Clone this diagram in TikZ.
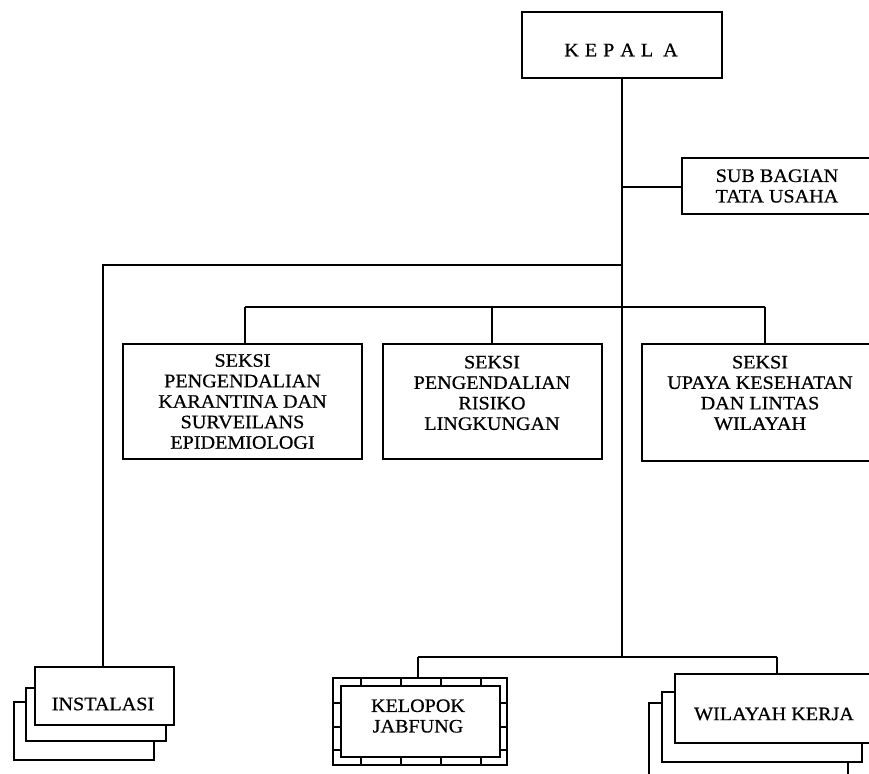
\documentclass[tikz,border=0pt]{standalone}
\usepackage{fontspec}
\setmainfont{Liberation Serif}[FakeStretch=1.06,FakeBold=0.6]
\begin{document}
\begin{tikzpicture}[x=1pt,y=-1pt,
  line width=1.6pt,
  every node/.style={font=\fontsize{19}{20.5}\selectfont, align=center, inner sep=0pt},
  unit/.style={draw, fill=white, minimum width=#1, outer sep=0pt},
  sheet/.style={draw, fill=white},
  link/.style={draw, line width=1.6pt}
]
\useasboundingbox (0,0) rectangle (869,773);
\clip (0,0) rectangle (869,773);

% head of office
\node[unit=200pt, minimum height=66pt] (kepala) at (622,45) {};
\node (kepalat) at (621,50)
  {K\hspace{6pt}E\hspace{6pt}P\hspace{6pt}A\hspace{6pt}L\hspace{10pt}A};

% administration sub-division
\node[unit=190pt, minimum height=56pt] (tu) at (777,186) {SUB BAGIAN\\TATA USAHA};

% sections
\node[unit=239pt, minimum height=115pt] (s1) at (242.5,401.5)
  {SEKSI\\PENGENDALIAN\\KARANTINA DAN\\SURVEILANS\\EPIDEMIOLOGI};
\node[unit=219pt, minimum height=115pt] (s2) at (492.5,401.5) {};
\node[anchor=north] (s2t) at (492,355) {SEKSI\\PENGENDALIAN\\RISIKO\\LINGKUNGAN};
\node[unit=230pt, minimum height=117pt] (s3) at (757,402.5) {};
\node[anchor=north] (s3t) at (760,355) {SEKSI\\UPAYA KESEHATAN\\DAN LINTAS\\WILAYAH};

% installations: stacked sheets
\draw[sheet] (14,702) rectangle (154,760);
\draw[sheet] (26,688) rectangle (166,741);
\node[unit=139pt, minimum height=58pt] (inst) at (104.5,696) {};
\node (instt) at (103,704) {INSTALASI};

% functional group: framed box
\node[unit=174pt, minimum height=87pt] (kel) at (420,721.5) {};
\node[draw, minimum width=159pt, minimum height=71pt, outer sep=0pt] (kelin) at (420.5,721.5) {};
\node (kelt) at (418,716) {KELOPOK\\JABFUNG};
\foreach \x in {361,401,441,481} {
  \draw[line width=1.2pt] (\x,0 |- kel.north) -- (\x,0 |- kelin.north);
  \draw[line width=1.2pt] (\x,0 |- kel.south) -- (\x,0 |- kelin.south);
}
\foreach \y in {703,727,750} {
  \draw[line width=1.2pt] (kel.west |- 0,\y) -- (kelin.west |- 0,\y);
  \draw[line width=1.2pt] (kel.east |- 0,\y) -- (kelin.east |- 0,\y);
}

% work areas: stacked sheets
\draw[sheet] (649,703) rectangle (848,790);
\draw[sheet] (662,692) rectangle (862,762);
\node[unit=200pt, minimum height=69pt] (wil) at (775,708.5) {};
\node (wilt) at (774,714) {WILAYAH KERJA};

% connectors
\coordinate (trunk) at (622,657);
\coordinate (jtu) at (622,187);
\coordinate (jinst) at (622,265);
\coordinate (bar1) at (245,307);
\coordinate (bar2) at (765,307);
\coordinate (bot1) at (418,657);
\coordinate (bot2) at (777,657);

\draw[link] (kepala.south) -- (trunk);
\draw[link] (jtu) -- (tu.west |- jtu);
\draw[link] (jinst) -| (103,0 |- inst.north);
\draw[link] (bar1) -- (bar2);
\draw[link] (bar1) -- (bar1 |- s1.north);
\draw[link] (492,307) -- (492,0 |- s2.north);
\draw[link] (bar2) -- (bar2 |- s3.north);
\draw[link] (bot1) -- (bot2);
\draw[link] (bot1) -- (bot1 |- kel.north);
\draw[link] (bot2) -- (bot2 |- wil.north);
\end{tikzpicture}
\end{document}
